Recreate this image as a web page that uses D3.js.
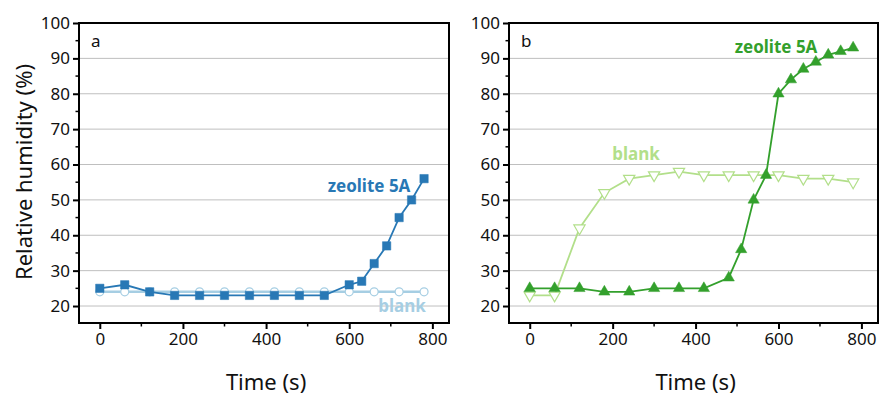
<!DOCTYPE html>
<html>
<head>
<meta charset="utf-8">
<script src="https://cdn.jsdelivr.net/npm/d3@7"></script>
<style>
  body { margin: 0; background: #fff; }
  svg { font-family: "Noto Sans", "Open Sans", sans-serif; }
</style>
</head>
<body>
<svg id="chart" width="880" height="395"></svg>
<script>
// data
const timeA = [0, 60, 120, 180, 240, 300, 360, 420, 480, 540, 600, 630, 660, 690, 720, 750, 780];
const zeoliteA = [25, 26, 24, 23, 23, 23, 23, 23, 23, 23, 26, 27, 32, 37, 45, 50, 56];
const blankTimeA = [0, 60, 120, 180, 240, 300, 360, 420, 480, 540, 600, 660, 720, 780];
const blankA = [24, 24, 24, 24, 24, 24, 24, 24, 24, 24, 24, 24, 24, 24];

const timeB = [0, 60, 120, 180, 240, 300, 360, 420, 480, 510, 540, 570, 600, 630, 660, 690, 720, 750, 780];
const zeoliteB = [25, 25, 25, 24, 24, 25, 25, 25, 28, 36, 50, 57, 80, 84, 87, 89, 91, 92, 93];
const blankTimeB = [0, 60, 120, 180, 240, 300, 360, 420, 480, 540, 600, 660, 720, 780];
const blankB = [23, 23, 42, 52, 56, 57, 58, 57, 57, 57, 57, 56, 56, 55];

const xTicks = [0, 200, 400, 600, 800];
const yTicks = [20, 30, 40, 50, 60, 70, 80, 90, 100];

const svg = d3.select("#chart");

// ein Panel zeichnen
function drawPanel(left, right, letter, series, labels) {
  const top = 23, bottom = 323;
  const x = d3.scaleLinear().domain([-50, 840]).range([left, right]);
  const y = d3.scaleLinear().domain([15.2, 100]).range([bottom, top]);
  const g = svg.append("g");

  // grid
  g.selectAll(".grid").data(yTicks.slice(0, -1)).join("line")
    .attr("x1", left).attr("x2", right)
    .attr("y1", d => y(d)).attr("y2", d => y(d))
    .attr("stroke", "#bfbfbf").attr("stroke-width", 1);

  // minor ticks
  const xMinor = d3.range(100, 840, 200);
  const yMinor = d3.range(25, 100, 10);
  g.selectAll(".xm").data(xMinor).join("line")
    .attr("x1", d => x(d)).attr("x2", d => x(d))
    .attr("y1", bottom).attr("y2", bottom + 3.5)
    .attr("stroke", "#000").attr("stroke-width", 1.5);
  g.selectAll(".ym").data(yMinor).join("line")
    .attr("x1", left - 3.5).attr("x2", left)
    .attr("y1", d => y(d)).attr("y2", d => y(d))
    .attr("stroke", "#000").attr("stroke-width", 1.5);

  // axes
  const xAxis = g.append("g").attr("transform", `translate(0,${bottom})`)
    .call(d3.axisBottom(x).tickValues(xTicks).tickSize(6).tickPadding(4));
  const yAxis = g.append("g").attr("transform", `translate(${left},0)`)
    .call(d3.axisLeft(y).tickValues(yTicks).tickSize(6).tickPadding(3));
  [xAxis, yAxis].forEach(a => {
    a.select(".domain").remove();
    a.selectAll(".tick line").attr("stroke", "#000").attr("stroke-width", 2);
    a.selectAll("text").attr("font-size", 17).attr("fill", "#111")
      .attr("font-family", "Noto Sans, sans-serif");
  });

  // box
  g.append("rect").attr("x", left).attr("y", top)
    .attr("width", right - left).attr("height", bottom - top)
    .attr("fill", "none").attr("stroke", "#000").attr("stroke-width", 2);

  // series
  series.forEach(s => {
    const pts = s.t.map((t, i) => [t, s.v[i]]);
    g.append("path").datum(pts)
      .attr("fill", "none").attr("stroke", s.color).attr("stroke-width", s.width)
      .attr("d", d3.line().x(d => x(d[0])).y(d => y(d[1])));
    const sym = d3.symbol().type(s.symbol).size(s.size);
    g.selectAll(null).data(pts).join("path")
      .attr("transform", d => `translate(${x(d[0])},${y(d[1])})` + (s.rotate ? " rotate(180)" : ""))
      .attr("d", sym)
      .attr("fill", s.open ? "#fff" : s.color)
      .attr("stroke", s.color).attr("stroke-width", s.open ? 1.2 : 0.5);
  });

  labels.forEach(l => {
    g.append("text").attr("x", l.x).attr("y", l.y)
      .attr("font-size", 17).attr("font-weight", "bold")
      .attr("fill", l.color).attr("text-anchor", "middle")
      .text(l.text);
  });

  g.append("text").attr("x", left + 12).attr("y", 47)
    .attr("font-size", 17).attr("fill", "#111").text(letter);

  g.append("text").attr("x", x(400)).attr("y", 390)
    .attr("font-size", 22).attr("fill", "#111").attr("text-anchor", "middle")
    .text("Time (s)");
}

const blue = "#2878b5", lightBlue = "#a6cee3", green = "#33a02c", lightGreen = "#b2df8a";

drawPanel(79, 449, "a", [
  { t: blankTimeA, v: blankA, color: lightBlue, width: 2.5, symbol: d3.symbolCircle, size: 50, open: true },
  { t: timeA, v: zeoliteA, color: blue, width: 1.8, symbol: d3.symbolSquare, size: 70, open: false }
], [
  { text: "zeolite 5A", x: 369, y: 192, color: blue },
  { text: "blank", x: 402, y: 312, color: lightBlue }
]);

drawPanel(509, 878, "b", [
  { t: blankTimeB, v: blankB, color: lightGreen, width: 1.8, symbol: d3.symbolTriangle, size: 55, open: true, rotate: true },
  { t: timeB, v: zeoliteB, color: green, width: 1.8, symbol: d3.symbolTriangle, size: 55, open: false }
], [
  { text: "zeolite 5A", x: 776, y: 53, color: green },
  { text: "blank", x: 636, y: 160, color: lightGreen }
]);

svg.append("text")
  .attr("transform", "translate(32,172) rotate(-90)")
  .attr("font-size", 22).attr("fill", "#111").attr("text-anchor", "middle")
  .text("Relative humidity (%)");
</script>
</body>
</html>
